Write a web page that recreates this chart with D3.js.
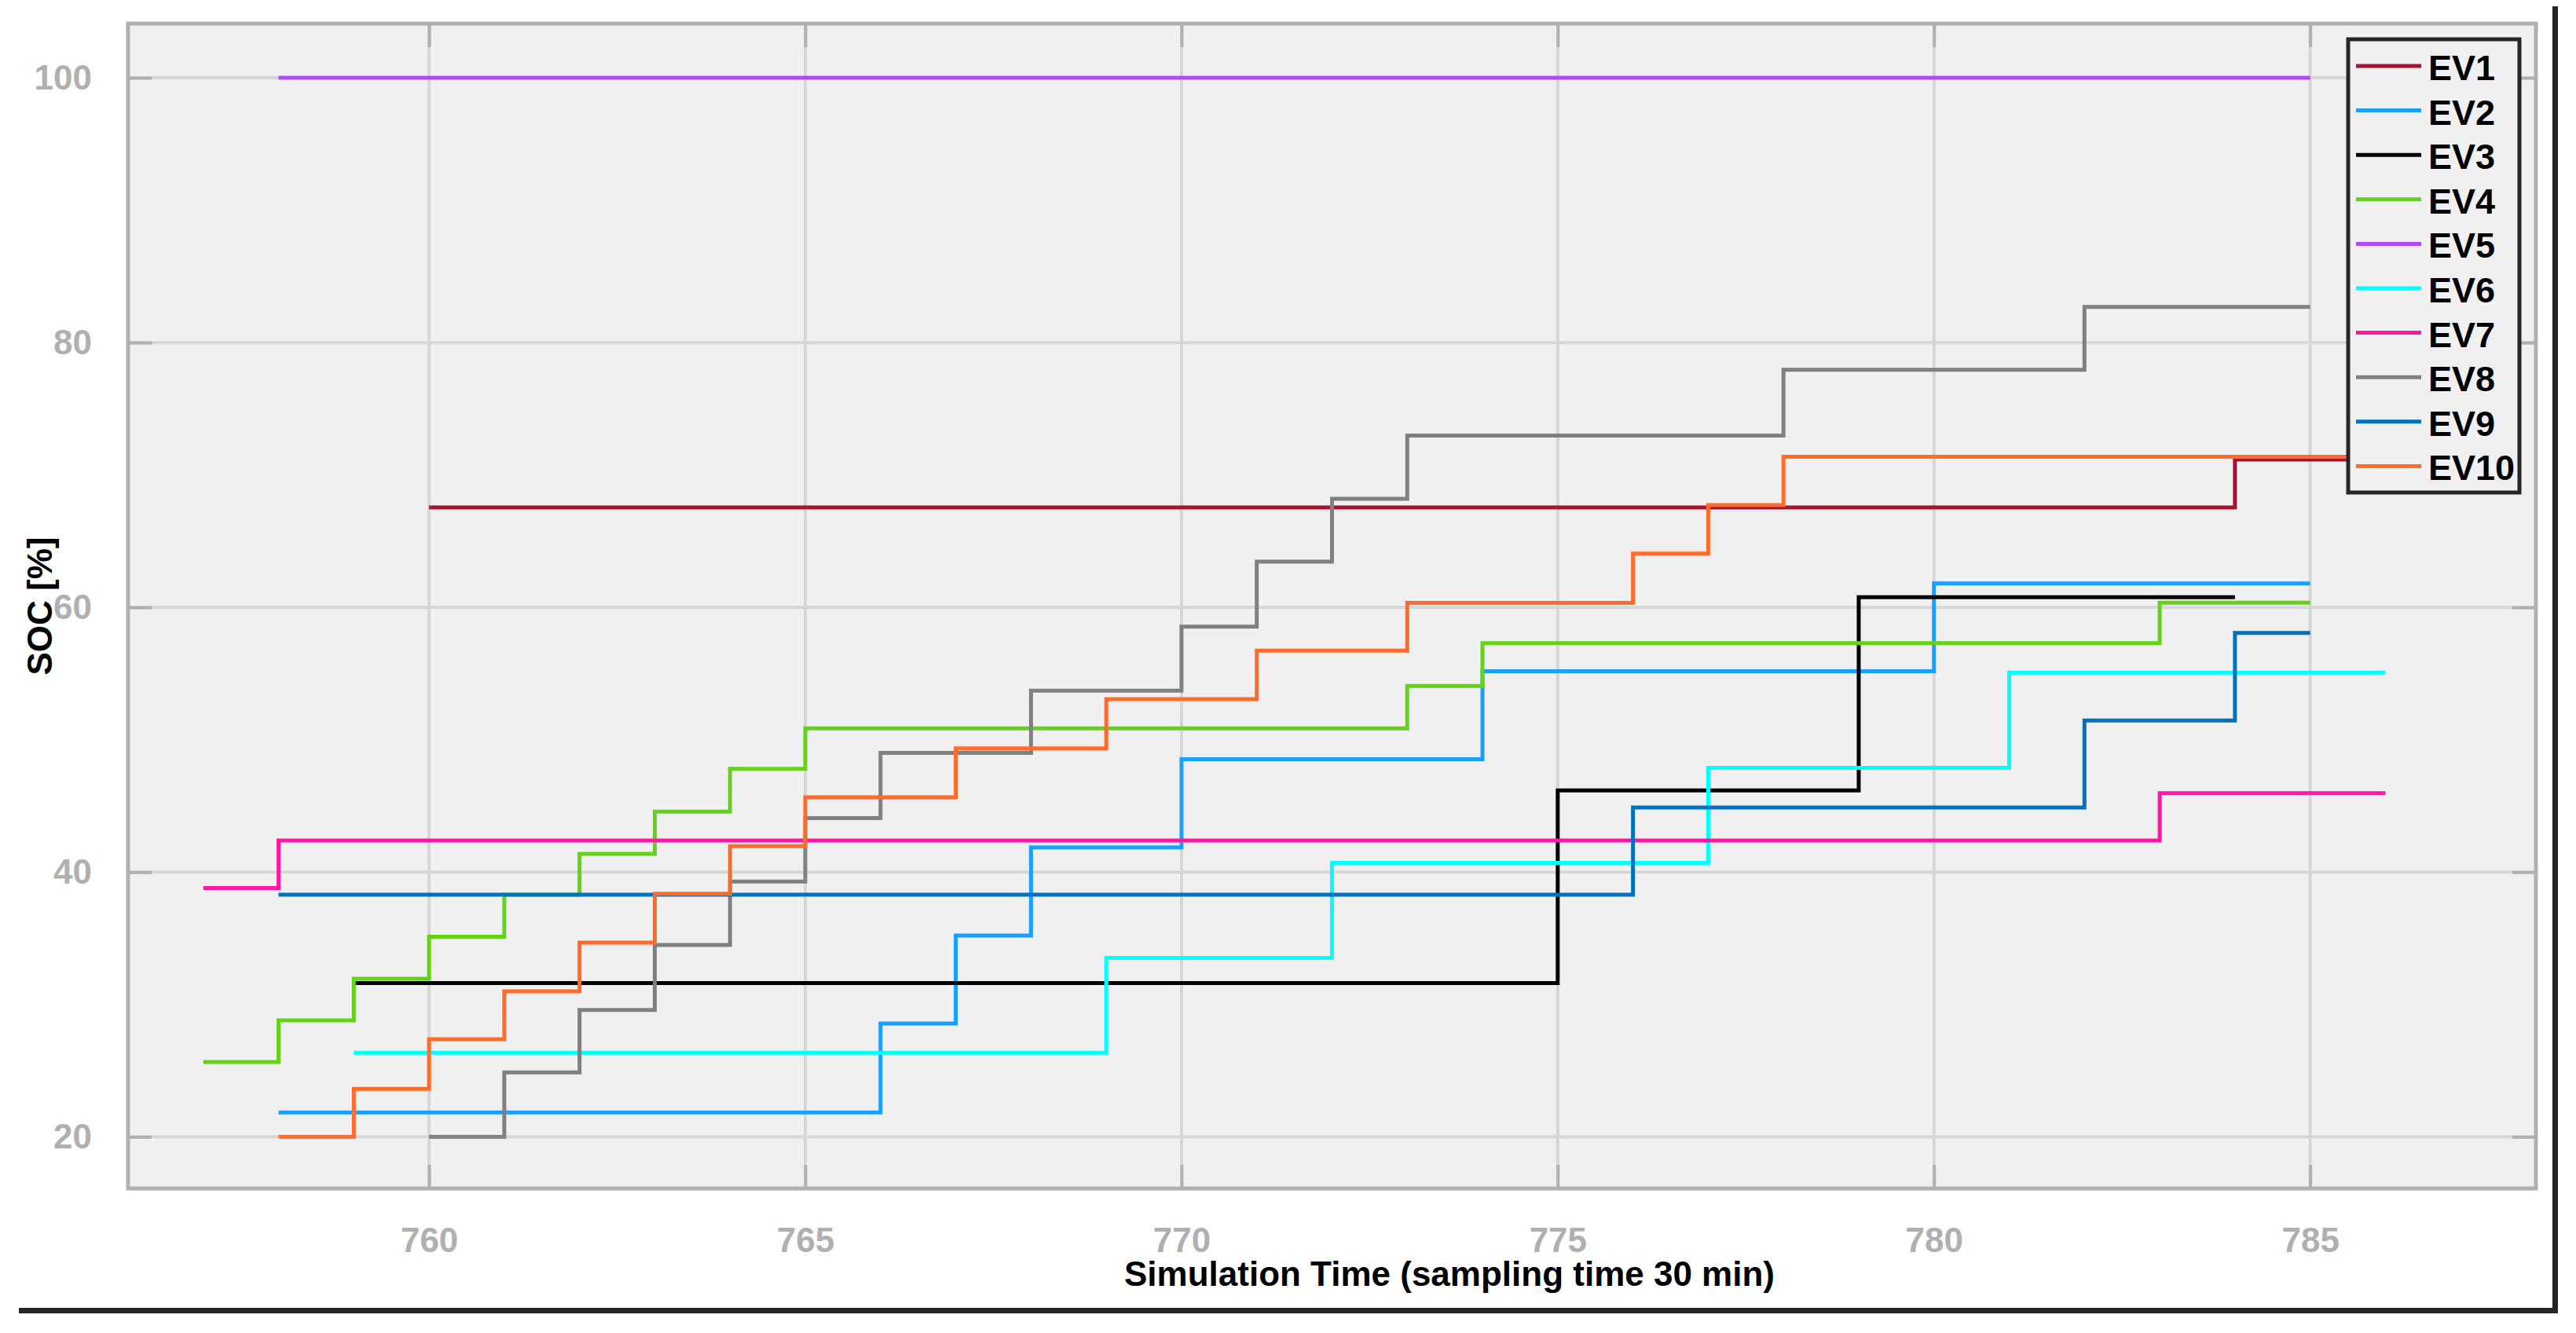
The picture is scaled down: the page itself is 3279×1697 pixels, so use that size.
<!DOCTYPE html>
<html>
<head>
<meta charset="utf-8">
<script src="https://cdn.jsdelivr.net/npm/d3@7"></script>
<style>
  html, body { margin: 0; padding: 0; background: #fff; }
  svg { display: block; font-family: "Liberation Sans", Arial, sans-serif; }
</style>
</head>
<body>
<svg id="chart" width="3279" height="1697"></svg>
<script>
const WIDTH = 3279;
const HEIGHT = 1697;
const PLOT = { left: 163, right: 3228, top: 30, bottom: 1513 };

// x domain / ticks
const X_DOMAIN = [756, 788];
const Y_DOMAIN = [16.1, 104.1];
const X_TICKS = [760, 765, 770, 775, 780, 785];
const Y_TICKS = [20, 40, 60, 80, 100];

const names = ["EV1", "EV2", "EV3", "EV4", "EV5", "EV6", "EV7", "EV8", "EV9", "EV10"];
const colors = ["#a2142f", "#18a0ff", "#000000", "#64d216", "#b44af7", "#00ffff", "#ff16a2", "#808080", "#0072bd", "#ff6b2b"];

// stairs: time steps and SOC value held from that step on
const ev1Time = [760, 784, 786];
const ev1Soc = [67.55, 71.17, 71.17];
const ev2Time = [758, 766, 767, 768, 770, 774, 780, 785];
const ev2Soc = [21.84, 28.56, 35.21, 41.87, 48.53, 55.17, 61.81, 61.81];
const ev3Time = [759, 775, 779, 784];
const ev3Soc = [31.62, 46.17, 60.77, 60.77];
const ev4Time = [757, 758, 759, 760, 761, 762, 763, 764, 765, 773, 774, 783, 785];
const ev4Soc = [25.65, 28.8, 31.94, 35.12, 38.3, 41.38, 44.57, 47.8, 50.86, 54.06, 57.3, 60.35, 60.35];
const ev5Time = [758, 785];
const ev5Soc = [100, 100];
const ev6Time = [759, 769, 772, 777, 781, 786];
const ev6Soc = [26.35, 33.52, 40.69, 47.87, 55.07, 55.07];
const ev7Time = [757, 758, 783, 786];
const ev7Soc = [38.8, 42.38, 45.96, 45.96];
const ev8Time = [760, 761, 762, 763, 764, 765, 766, 768, 770, 771, 772, 773, 778, 782, 785];
const ev8Soc = [20.0, 24.86, 29.59, 34.49, 39.29, 44.08, 49.01, 53.71, 58.54, 63.45, 68.2, 72.98, 77.95, 82.7, 82.7];
const ev9Time = [758, 776, 782, 784, 785];
const ev9Soc = [38.3, 44.88, 51.45, 58.07, 58.07];
const ev10Time = [758, 759, 760, 761, 762, 763, 764, 765, 767, 769, 771, 773, 776, 777, 778, 786];
const ev10Soc = [20.0, 23.62, 27.37, 31.0, 34.67, 38.36, 41.96, 45.65, 49.34, 53.07, 56.73, 60.33, 64.06, 67.72, 71.38, 71.38];

const times = [ev1Time, ev2Time, ev3Time, ev4Time, ev5Time, ev6Time, ev7Time, ev8Time, ev9Time, ev10Time];
const socs = [ev1Soc, ev2Soc, ev3Soc, ev4Soc, ev5Soc, ev6Soc, ev7Soc, ev8Soc, ev9Soc, ev10Soc];

const series = names.map((name, i) => ({
  name,
  color: colors[i],
  points: times[i].map((t, j) => [t, socs[i][j]])
}));

const svg = d3.select("#chart");

const xScale = d3.scaleLinear().domain(X_DOMAIN).range([PLOT.left, PLOT.right]);
const yScale = d3.scaleLinear().domain(Y_DOMAIN).range([PLOT.bottom, PLOT.top]);

// plot background
svg.append("rect")
  .attr("x", PLOT.left).attr("y", PLOT.top)
  .attr("width", PLOT.right - PLOT.left).attr("height", PLOT.bottom - PLOT.top)
  .attr("fill", "#f0f0f0");

// grid lines
svg.append("g")
  .selectAll("line")
  .data(X_TICKS)
  .enter()
  .append("line")
  .attr("x1", (d) => xScale(d)).attr("x2", (d) => xScale(d))
  .attr("y1", PLOT.top).attr("y2", PLOT.bottom)
  .attr("stroke", "#d6d6d6").attr("stroke-width", 4);

svg.append("g")
  .selectAll("line")
  .data(Y_TICKS)
  .enter()
  .append("line")
  .attr("x1", PLOT.left).attr("x2", PLOT.right)
  .attr("y1", (d) => yScale(d)).attr("y2", (d) => yScale(d))
  .attr("stroke", "#d6d6d6").attr("stroke-width", 4);

// the stair lines
const line = d3.line()
  .x((d) => xScale(d[0]))
  .y((d) => yScale(d[1]))
  .curve(d3.curveStepAfter);

svg.append("g")
  .selectAll("path")
  .data(series)
  .enter()
  .append("path")
  .attr("d", (d) => line(d.points))
  .attr("fill", "none")
  .attr("stroke", (d) => d.color)
  .attr("stroke-width", 5)
  .attr("stroke-linejoin", "miter");

// axes: ticks inside, on all four sides (box on)
const TICK_LEN = 30;
const xAxisBottom = d3.axisBottom(xScale).tickValues(X_TICKS).tickSizeInner(-TICK_LEN).tickSizeOuter(0).tickPadding(TICK_LEN + 20);
const xAxisTop = d3.axisTop(xScale).tickValues(X_TICKS).tickSizeInner(-TICK_LEN).tickSizeOuter(0).tickFormat("");
const yAxisLeft = d3.axisLeft(yScale).tickValues(Y_TICKS).tickSizeInner(-TICK_LEN).tickSizeOuter(0).tickPadding(TICK_LEN + 16);
const yAxisRight = d3.axisRight(yScale).tickValues(Y_TICKS).tickSizeInner(-TICK_LEN).tickSizeOuter(0).tickFormat("");

const axes = [
  [xAxisBottom, `translate(0, ${PLOT.bottom})`],
  [xAxisTop, `translate(0, ${PLOT.top})`],
  [yAxisLeft, `translate(${PLOT.left}, 0)`],
  [yAxisRight, `translate(${PLOT.right}, 0)`]
];
axes.forEach(([axis, transform]) => {
  const g = svg.append("g").attr("transform", transform).call(axis);
  g.select(".domain").remove();
  g.selectAll(".tick line").attr("stroke", "#b0b0b0").attr("stroke-width", 4);
  g.selectAll(".tick text")
    .attr("fill", "#b0b0b0")
    .style("font-size", "44px")
    .style("font-weight", "bold")
    .style("font-family", "'Liberation Sans', Arial, sans-serif");
});

// box
svg.append("rect")
  .attr("x", PLOT.left).attr("y", PLOT.top)
  .attr("width", PLOT.right - PLOT.left).attr("height", PLOT.bottom - PLOT.top)
  .attr("fill", "none").attr("stroke", "#b0b0b0").attr("stroke-width", 5);

// axis titles
svg.append("text")
  .text("Simulation Time (sampling time 30 min)")
  .attr("x", 1845).attr("y", 1637)
  .attr("text-anchor", "middle")
  .style("font-size", "44px").style("font-weight", "bold")
  .attr("fill", "#000");

svg.append("text")
  .text("SOC [%]")
  .attr("transform", `translate(66, ${(PLOT.top + PLOT.bottom) / 2}) rotate(-90)`)
  .attr("text-anchor", "middle")
  .style("font-size", "44px").style("font-weight", "bold")
  .attr("fill", "#000");

// legend
const LEG = { x: 2989, y: 50, w: 218, h: 577, rowStart: 84, rowStep: 56.6 };
const legend = svg.append("g");
legend.append("rect")
  .attr("x", LEG.x).attr("y", LEG.y).attr("width", LEG.w).attr("height", LEG.h)
  .attr("fill", "#f0f0f0").attr("stroke", "#262626").attr("stroke-width", 5);

const rows = legend.selectAll("g.row")
  .data(series)
  .enter()
  .append("g")
  .attr("class", "row")
  .attr("transform", (d, i) => `translate(${LEG.x}, ${LEG.rowStart + i * LEG.rowStep})`);

rows.append("line")
  .attr("x1", 10).attr("x2", 93).attr("y1", 0).attr("y2", 0)
  .attr("stroke", (d) => d.color).attr("stroke-width", 5);

rows.append("text")
  .text((d) => d.name)
  .attr("x", 102).attr("y", 0).attr("dy", "0.4em")
  .style("font-size", "45px").style("font-weight", "bold")
  .attr("fill", "#000");

// frame lines at the right and bottom of the picture
svg.append("rect").attr("x", 3249).attr("y", 8).attr("width", 7).attr("height", 1664).attr("fill", "#262626");
svg.append("rect").attr("x", 24).attr("y", 1665).attr("width", 3232).attr("height", 7).attr("fill", "#262626");
</script>
</body>
</html>
